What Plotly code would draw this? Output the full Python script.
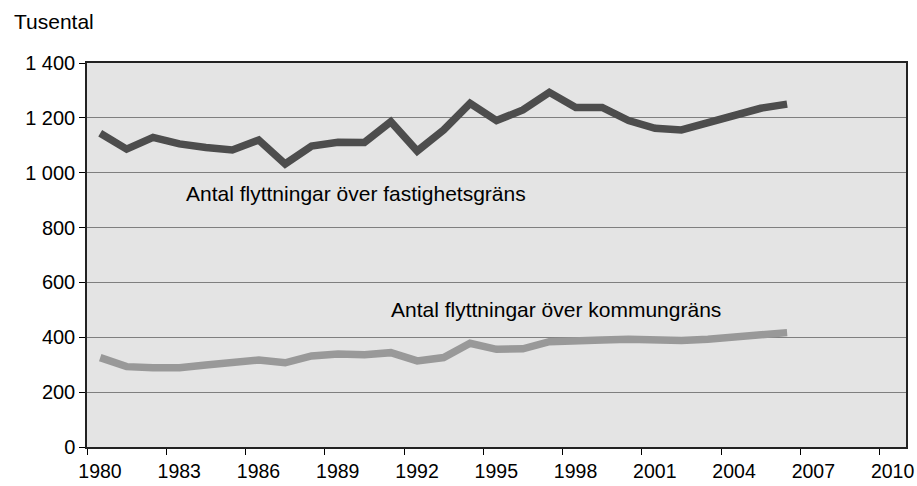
import plotly.graph_objects as go

years = list(range(1980, 2007))
fastighet = [1144, 1086, 1129, 1105, 1092, 1083, 1119, 1032, 1097, 1111, 1110,
             1186, 1079, 1156, 1253, 1190, 1229, 1293, 1238, 1238, 1190,
             1162, 1156, 1180, 1204, 1235, 1250]
kommun = [326, 293, 289, 289, 299, 310, 317, 307, 332, 339, 336,
          344, 314, 326, 378, 356, 358, 384, 384, 390, 393,
          390, 388, 393, 402, 411, 417]
tick_years = list(range(1980, 2011, 3))
y_ticks = [0, 200, 400, 600, 800, 1000, 1200, 1400]
label_fast = "Antal flyttningar över fastighetsgräns"
label_komm = "Antal flyttningar över kommungräns"

FONT = "Liberation Sans, Arial, sans-serif"

fig = go.Figure()
fig.add_trace(go.Scatter(x=years, y=fastighet, mode="lines",
                         line=dict(color="#4d4d4d", width=7.5),
                         hoverinfo="skip", showlegend=False))
fig.add_trace(go.Scatter(x=years, y=kommun, mode="lines",
                         line=dict(color="#999999", width=7.5),
                         hoverinfo="skip", showlegend=False))

fig.add_annotation(x=1983.17, y=926, text=label_fast, showarrow=False,
                   xanchor="left", yanchor="middle",
                   font=dict(family=FONT, size=21, color="#000"))
fig.add_annotation(x=1990.94, y=500, text=label_komm, showarrow=False,
                   xanchor="left", yanchor="middle",
                   font=dict(family=FONT, size=21, color="#000"))
fig.add_annotation(x=-0.091, y=1.107, xref="paper", yref="paper",
                   text="Tusental", showarrow=False,
                   xanchor="left", yanchor="middle",
                   font=dict(family=FONT, size=21, color="#000"))

fig.update_layout(
    width=917, height=486,
    margin=dict(l=87, r=11, t=63, b=39, autoexpand=False),
    paper_bgcolor="white",
    plot_bgcolor="#e4e4e4",
    separators=", ",
    font=dict(family=FONT, size=20, color="#000"),
    showlegend=False,
)
fig.update_xaxes(
    range=[1979.5, 2010.5],
    tickmode="array",
    tickvals=[t - 0.5 for t in tick_years],
    ticktext=[str(t) for t in tick_years],
    ticklabelshift=13,
    ticks="outside", ticklen=6, tickwidth=1, tickcolor="#000",
    showgrid=False, zeroline=False, automargin=False,
    showline=True, linecolor="#222", linewidth=1.5, mirror=True,
    tickfont=dict(family=FONT, size=19.5, color="#000"),
)
fig.update_yaxes(
    range=[0, 1400],
    tickmode="array",
    tickvals=y_ticks,
    tickformat=",d",
    ticks="outside", ticklen=6, tickwidth=1, tickcolor="#000",
    showgrid=True, gridcolor="#7f7f7f", gridwidth=1,
    zeroline=False, automargin=False,
    showline=True, linecolor="#222", linewidth=1.5, mirror=True,
    tickfont=dict(family=FONT, size=20, color="#000"),
)

# remove the default page margin so the 917x486 figure fills the window
fig.write_html(
    "out.html",
    config={"displayModeBar": False},
    post_script="document.body.style.margin='0';document.body.style.overflow='hidden';",
)
